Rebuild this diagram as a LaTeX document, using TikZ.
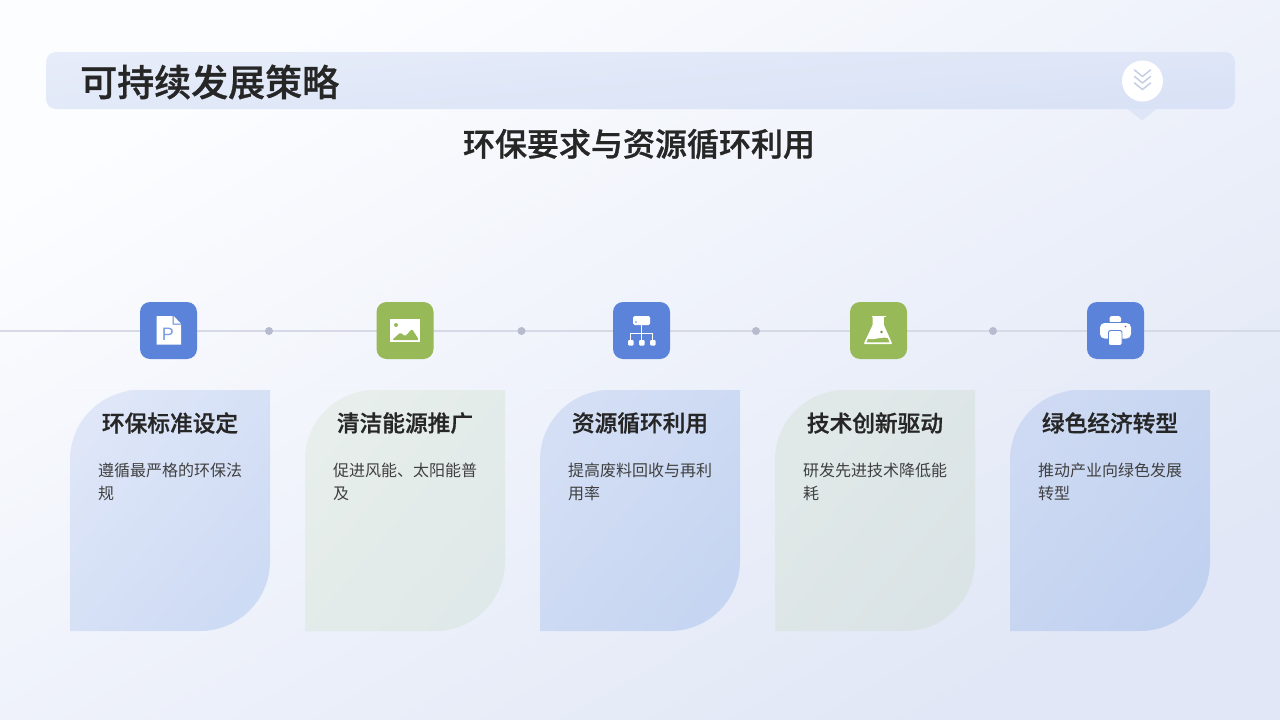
\documentclass[tikz,border=0pt]{standalone}
\usepackage{fontspec}
\setmainfont[BoldFont={Noto Sans CJK SC Medium},BoldFeatures={FakeBold=0.9}]{Noto Sans CJK SC}
\newfontfamily\latinfont{Liberation Sans}
\usetikzlibrary{calc}
\definecolor{bgA}{HTML}{FCFDFF}
\definecolor{bgB}{HTML}{E1E7F6}
\definecolor{barA}{HTML}{E6ECF9}
\definecolor{barB}{HTML}{D9E2F6}
\definecolor{inkA}{HTML}{262626}
\definecolor{inkB}{HTML}{404040}
\definecolor{iconblue}{HTML}{5B83D9}
\definecolor{icongreen}{HTML}{98B957}
\definecolor{linecol}{HTML}{D6DAE6}
\definecolor{dotcol}{HTML}{B6BCCD}
\definecolor{chev}{HTML}{C4CEE4}
\tikzset{
  x=1pt,y=-1pt,
  tilebox/.style={draw=none,fill=#1,rounded corners=10pt},
  headtext/.style={anchor=center,text=inkA,font=\fontsize{22.7}{26}\selectfont\bfseries,inner sep=0pt},
  bodytext/.style={anchor=north west,text=inkB,font=\fontsize{16}{23}\selectfont,inner sep=0pt,align=left},
  dotmark/.style={circle,fill=dotcol,draw=none,minimum size=8pt,inner sep=0pt},
  whitefill/.style={fill=white,draw=none},
  chevline/.style={draw=chev,line width=1.5pt,line cap=round,line join=round},
}
\newcommand{\cardpath}[1]{%
  (#1,390) -- (#1+200,390) -- (#1+200,561)
  .. controls (#1+200,599.7) and (#1+168.7,631) .. (#1+130,631)
  -- (#1,631) -- (#1,460)
  .. controls (#1,421.3) and (#1+31.3,390) .. (#1+70,390) -- cycle}
\begin{document}
\begin{tikzpicture}
\useasboundingbox (0,0) rectangle (1280,720);
\path[left color=bgA,right color=bgB,shading angle=30] (0,0) rectangle (1280,720);
% header bar
\path[left color=barA,right color=barB,shading angle=5,rounded corners=10pt] (46,52) rectangle (1235,109);
\path[fill=barB!70!barA] (1127,108.5) -- (1157,108.5) -- (1142,120.5) -- cycle;
\node[circle,fill=white,minimum size=41pt,inner sep=0pt] (badge) at (1142.5,81) {};
\foreach \yy in {70,76.5,83}{
  \draw[chevline] (1134.5,\yy) -- (1142.5,\yy+6.5) -- (1150.5,\yy);
}
\node[anchor=west,text=inkA,font=\fontsize{37}{40}\selectfont\bfseries,inner sep=0pt] (title) at (80,82) {可持续发展策略};
\node[anchor=center,text=inkA,font=\fontsize{32}{36}\selectfont\bfseries,inner sep=0pt] (subtitle) at (639,144) {环保要求与资源循环利用};
% timeline
\coordinate (lineL) at (0,331);
\coordinate (lineR) at (1280,331);
\draw[linecol,line width=1.5pt] (lineL) -- (lineR);
\node[dotmark] (d1) at (269,331) {};
\node[dotmark] (d2) at (521.5,331) {};
\node[dotmark] (d3) at (756,331) {};
\node[dotmark] (d4) at (993,331) {};
% icon tiles
\path[tilebox=iconblue] (140,302) rectangle (197,359);
\path[tilebox=icongreen] (376.5,302) rectangle (433.5,359);
\path[tilebox=iconblue] (613,302) rectangle (670,359);
\path[tilebox=icongreen] (850,302) rectangle (907,359);
\path[tilebox=iconblue] (1087,302) rectangle (1144,359);
% icon 1
\path[whitefill] (156.5,316) -- (172.6,316) -- (172.6,324.6) -- (181,324.6) -- (181,344.5) -- (156.5,344.5) -- cycle;
\path[whitefill] (173.6,316) -- (181,323.6) -- (173.6,323.6) -- cycle;
\node[text=iconblue!80!white,font=\latinfont\fontsize{18}{18}\selectfont,inner sep=0pt] (pletter) at (168,334) {P};
% icon 2
\path[whitefill] (390,319) rectangle (420,342);
\path[fill=icongreen,rounded corners=1.5pt] (392,340) -- (400.5,332.5) -- (405,336.5) -- (412,329) -- (419,340) -- cycle;
\path[fill=icongreen] (396,325) circle (2pt);
% icon 3
\path[whitefill,rounded corners=1.5pt] (633,316) rectangle (650,325);
\path[fill=iconblue] (636,322) circle (0.8pt);
\draw[white,line width=1pt] (641.5,325) -- (641.5,342);
\draw[white,line width=1pt] (630.5,342) -- (630.5,333.5) -- (652.5,333.5) -- (652.5,342);
\path[whitefill,rounded corners=1pt] (628,340) rectangle (633.5,345.5);
\path[whitefill,rounded corners=1pt] (639,340) rectangle (644.5,345.5);
\path[whitefill,rounded corners=1pt] (650,340) rectangle (655.5,345.5);
% icon 4
\draw[white,line width=1.7pt,line join=round] (873.5,317) -- (873.5,325) -- (865,343.2) -- (891,343.2) -- (883,325) -- (883,317);
\draw[white,line width=1.8pt] (871.5,316.5) -- (885.5,316.5);
\path[whitefill] (873.5,317) -- (883,317) -- (883,325) -- (890,339) .. controls (882,335) and (876,341) .. (867,338.5) -- (873.5,325) -- cycle;
\path[fill=icongreen!75!black] (881.5,332) circle (1.4pt);
% icon 5
\path[whitefill,rounded corners=2.5pt] (1109.5,316) -- (1121,316) -- (1121,323) -- (1109.5,323) -- cycle;
\path[fill=iconblue] (1106,321.7) rectangle (1124,323);
\path[whitefill,rounded corners=4.5pt] (1100,323) rectangle (1131,338.5);
\path[whitefill,draw=iconblue,line width=0.9pt,rounded corners=2pt] (1108.5,330.5) rectangle (1122,345.5);
\path[fill=red!60!iconblue] (1125.5,326.5) circle (0.9pt);
% cards
\definecolor{cA1}{HTML}{DEE6F8}\definecolor{cA2}{HTML}{CEDBF4}
\definecolor{cB1}{HTML}{E7EEEB}\definecolor{cB2}{HTML}{E0E9E9}
\definecolor{cC1}{HTML}{D4DFF5}\definecolor{cC2}{HTML}{C6D5F1}
\definecolor{cD1}{HTML}{E1E9E8}\definecolor{cD2}{HTML}{DAE3E6}
\definecolor{cE1}{HTML}{CEDAF3}\definecolor{cE2}{HTML}{C1D1F0}
\path[left color=cA1,right color=cA2,shading angle=50] \cardpath{70};
\path[left color=cB1,right color=cB2,shading angle=50] \cardpath{305};
\path[left color=cC1,right color=cC2,shading angle=50] \cardpath{540};
\path[left color=cD1,right color=cD2,shading angle=50] \cardpath{775};
\path[left color=cE1,right color=cE2,shading angle=50] \cardpath{1010};
\node[headtext] (h1) at (170,423) {环保标准设定};
\node[headtext] (h2) at (405,423) {清洁能源推广};
\node[headtext] (h3) at (640,423) {资源循环利用};
\node[headtext] (h4) at (875,423) {技术创新驱动};
\node[headtext] (h5) at (1110,423) {绿色经济转型};
\node[bodytext] (b1) at (98,462.5) {遵循最严格的环保法\\规};
\node[bodytext] (b2) at (333,462.5) {促进风能、太阳能普\\及};
\node[bodytext] (b3) at (568,462.5) {提高废料回收与再利\\用率};
\node[bodytext] (b4) at (803,462.5) {研发先进技术降低能\\耗};
\node[bodytext] (b5) at (1038,462.5) {推动产业向绿色发展\\转型};
\end{tikzpicture}
\end{document}
